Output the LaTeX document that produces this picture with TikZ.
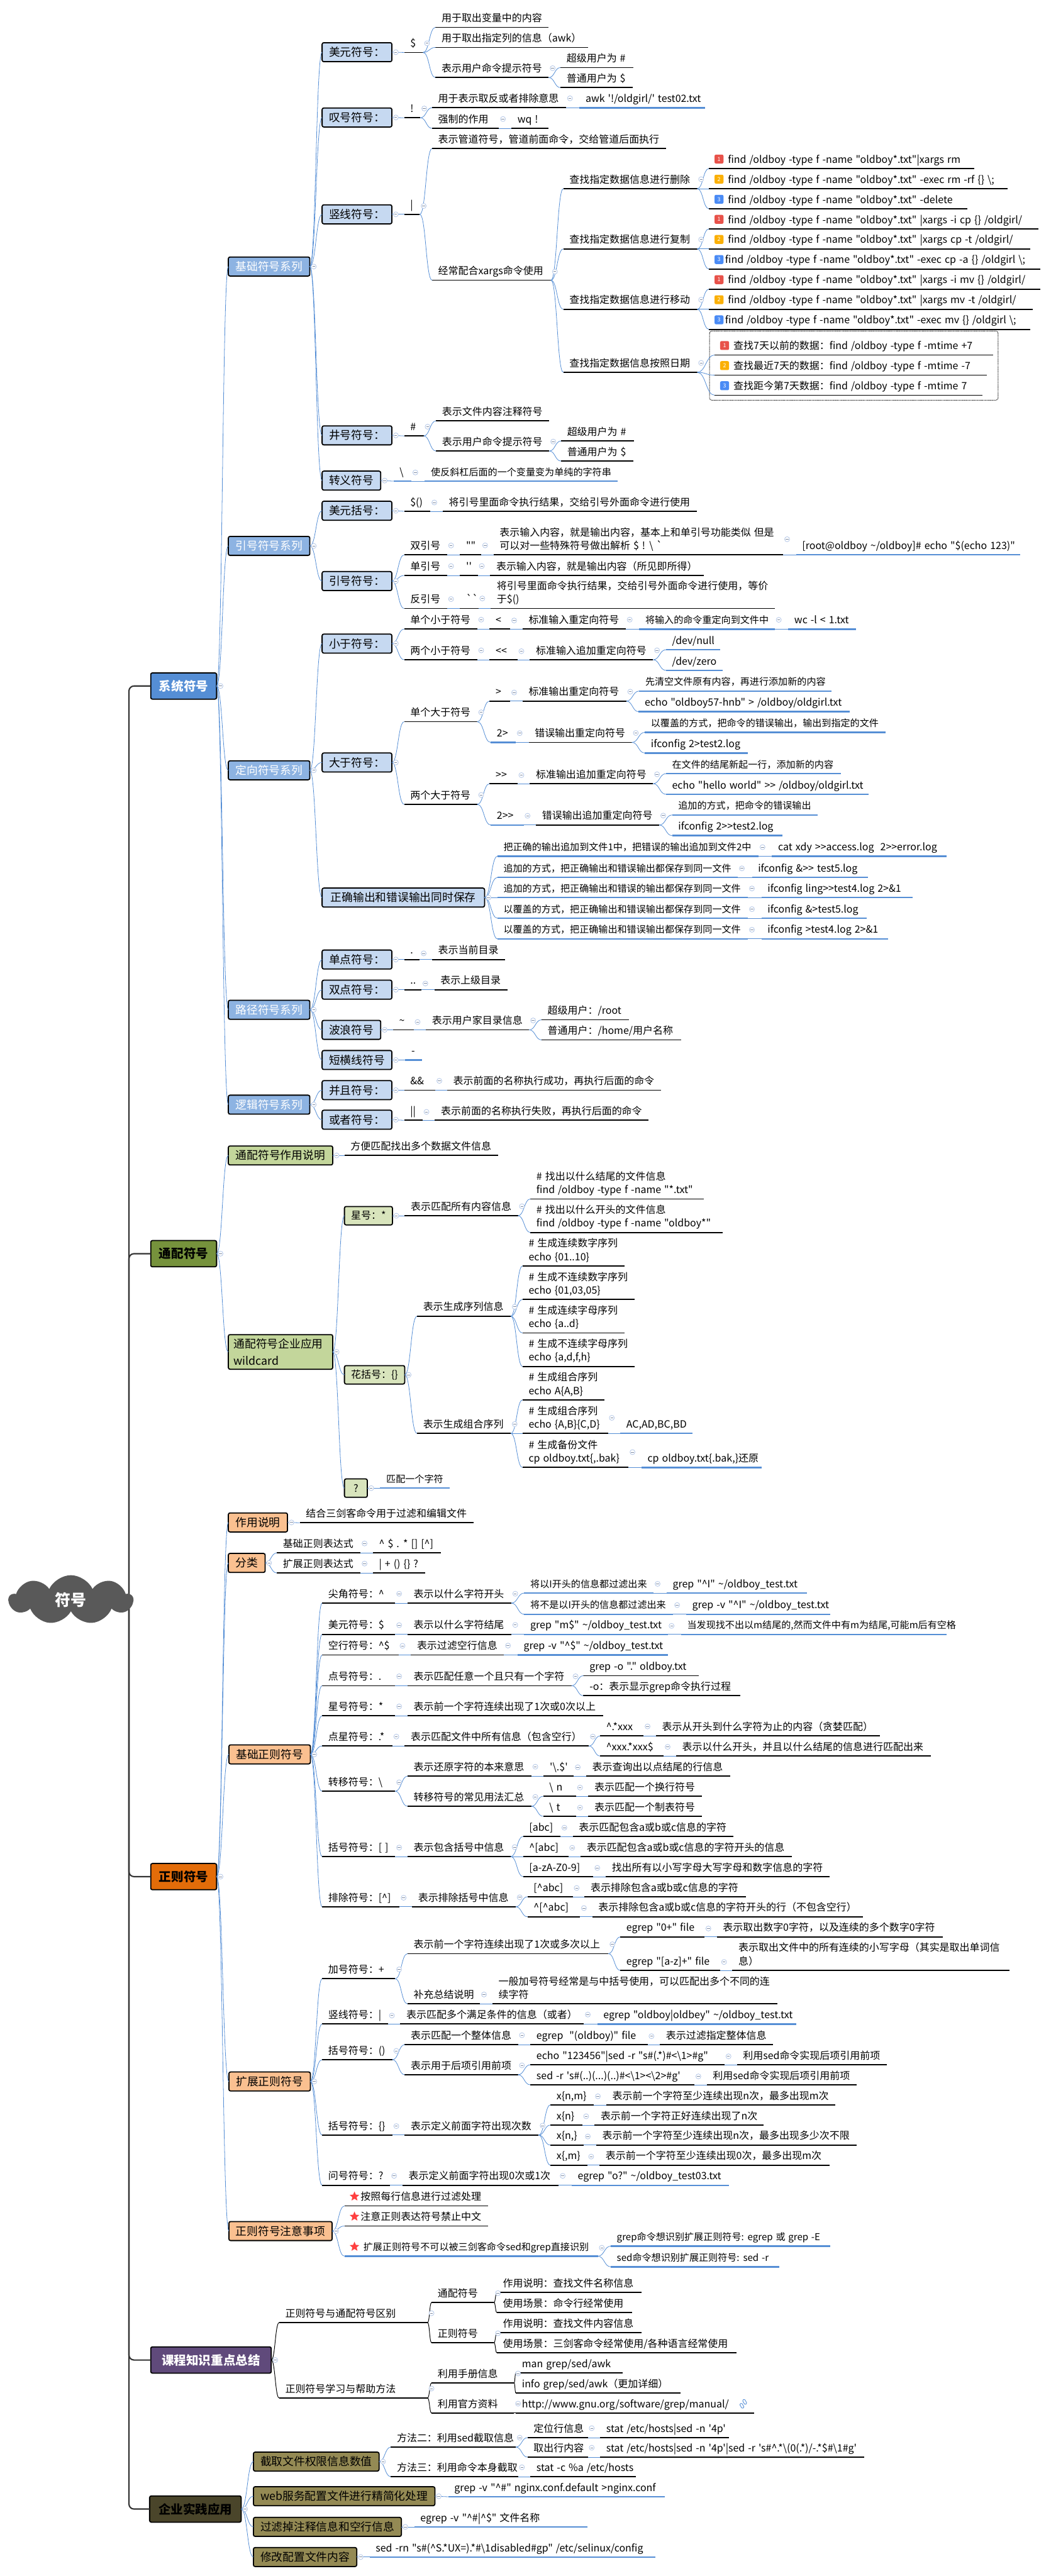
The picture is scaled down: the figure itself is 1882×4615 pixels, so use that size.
\documentclass[tikz,border=0pt]{standalone}
\usepackage{fontspec}
\usetikzlibrary{calc}
\usetikzlibrary{shapes.symbols,shapes.geometric}
\newfontfamily\cnfont[WordSpace=1.4]{Noto Sans CJK SC}
\definecolor{linkblue}{HTML}{558ED5}
\definecolor{sysb}{HTML}{558ED5}
\definecolor{sysm}{HTML}{8DB3E2}
\definecolor{sysl}{HTML}{C6D9F1}
\definecolor{wilb}{HTML}{76923C}
\definecolor{wilm}{HTML}{C3D69B}
\definecolor{will}{HTML}{D8E4BC}
\definecolor{regb}{HTML}{E36C09}
\definecolor{regm}{HTML}{FAC090}
\definecolor{crsb}{HTML}{604A7B}
\definecolor{cprb}{HTML}{4A452A}
\definecolor{cprm}{HTML}{948A54}
\definecolor{foldc}{HTML}{B4C7E7}
\definecolor{pria}{HTML}{E8524A}
\definecolor{prib}{HTML}{FBB005}
\definecolor{pric}{HTML}{4A8BF5}
\newcommand{\crt}{\textasciicircum}
\newcommand{\tld}{\textasciitilde}
\newcommand{\bsl}{\textbackslash}
\tikzset{
 every node/.style={font=\cnfont\fontsize{18}{24}\selectfont},
 tline/.style={black,line width=2},
 bline/.style={linkblue,line width=2.8},
 tnode/.style={anchor=base west,inner sep=0,outer sep=0,align=left},
 lvbox/.style={draw=black,line width=2,rounded corners=3,inner sep=0,outer sep=0,minimum height=34,align=center,anchor=west,font=\cnfont\fontsize{20}{30}\selectfont},
 topbox/.style={lvbox,minimum height=47,font=\cnfont\bfseries\fontsize{22}{30}\selectfont},
 clink/.style={linkblue,line width=.9},
 klink/.style={black,line width=1.1},
 rootlink/.style={black!80,line width=2.4,rounded corners=9},
 foldm/.style={circle,draw=foldc,fill=white,line width=.9,minimum size=9,inner sep=0,
  path picture={\draw[foldc!70!black] ([xshift=-2.5]path picture bounding box.center) -- ([xshift=2.5]path picture bounding box.center);}},
 prio/.style={rounded corners=2.5,minimum size=16,inner sep=0,text=white,font=\cnfont\fontsize{10}{10}\selectfont},
}
% underlined topic, blue underlined topic, filled box
\newcommand{\tpc}[6]{
 \coordinate (#2-l) at (#3,#5); \coordinate (#2-r) at (#4,#5);
 \draw[#1] (#2-l) -- (#2-r);
 \node[tnode] (#2) at (#3+11,#5-10) {#6};
 \coordinate (#2-f) at ($(#2-r |- #2)+(7,0)$);
}
\newcommand{\tp}[5]{\tpc{tline}{#1}{#2}{#3}{#4}{#5}}
\newcommand{\tb}[5]{\tpc{bline}{#1}{#2}{#3}{#4}{\fontsize{17}{24}\selectfont #5}}
\newcommand{\tl}[5]{\tpc{bline}{#1}{#2}{#3}{#4}{#5}}
\newcommand{\bx}[6]{
 \node[#1,minimum width={(#4-#3)*1pt}] (#2) at (#3,#5) {#6};
 \coordinate (#2-l) at (#2.west); \coordinate (#2-r) at (#2.east);
 \coordinate (#2-f) at ($(#2.east)+(7,0)$);
}
\newcommand{\kids}[3][clink]{
 \foreach \kid in {#3} {
  \draw[#1] (#2-r) .. controls ($(#2-r)!.5!(\kid-l |- #2-r)$) and ($(\kid-l)!.5!(#2-r |- \kid-l)$) .. (\kid-l);
 }
 \node[foldm] (#2-m) at (#2-f) {};
}
\newcommand{\prm}[3]{\node[prio,fill=#3] (#1-p) at ($(#1-l)+(18,-17)$) {#2};}
\newcommand{\stm}[1]{\node[star,star points=5,star point ratio=2.2,fill=red!75!white,minimum size=18,inner sep=0] (#1-s) at ($(#1-l)+(18,-17)$) {};}
\begin{document}
\begin{tikzpicture}[x=1pt,y=-1pt]
\useasboundingbox (0,0) rectangle (1882,4615);
\coordinate (root-r) at (231,2866);

% system symbols
\bx{topbox,fill=sysb,text=white}{sys}{270}{388}{1229}{系统符号}
\bx{lvbox,fill=sysm,text=white}{base}{409}{555}{477.5}{基础符号系列}
\bx{lvbox,fill=sysl}{dlr}{577}{702}{93.5}{美元符号：}
\tp{dlra}{724}{758}{94}{\$}
\tp{dlr1}{780}{983}{49}{用于取出变量中的内容}
\tp{dlr2}{780}{1053}{85}{用于取出指定列的信息（awk）}
\tp{dlr3}{780}{983}{139}{表示用户命令提示符号}
\tp{dlr3a}{1004}{1135}{121}{超级用户为 \#}
\tp{dlr3b}{1004}{1134}{157}{普通用户为 \$}
\bx{lvbox,fill=sysl}{exc}{577}{702}{210.5}{叹号符号：}
\tp{exca}{724}{753}{211}{!}
\tp{exc1}{774}{1014}{193}{用于表示取反或者排除意思}
\tl{exc1a}{1038}{1263}{193}{awk '!/oldgirl/' test02.txt}
\tp{exc2}{774}{894}{230}{强制的作用}
\tp{exc2a}{916}{983}{230}{wq !}
\bx{lvbox,fill=sysl}{pipe}{577}{702}{384}{竖线符号：}
\tp{pipa}{724}{752}{384}{|}
\tp{pip1}{774}{1193}{266}{表示管道符号，管道前面命令，交给管道后面执行}
\tp{pip2}{774}{987}{502}{经常配合xargs命令使用}
\tp{del}{1009}{1249}{338}{查找指定数据信息进行删除}
\tp{del1}{1270}{1745}{302}{\hspace*{23pt}find /oldboy -type f -name "oldboy*.txt"|xargs rm}
\tp{del2}{1270}{1805}{338}{\hspace*{23pt}find /oldboy -type f -name "oldboy*.txt" -exec rm -rf \{\} \bsl;}
\tp{del3}{1270}{1733}{374}{\hspace*{23pt}find /oldboy -type f -name "oldboy*.txt" -delete}
\tp{cpy}{1009}{1249}{446}{查找指定数据信息进行复制}
\tp{cpy1}{1270}{1860}{410}{\hspace*{23pt}find /oldboy -type f -name "oldboy*.txt" |xargs -i cp \{\} /oldgirl/}
\tp{cpy2}{1270}{1845}{446}{\hspace*{23pt}find /oldboy -type f -name "oldboy*.txt" |xargs cp -t /oldgirl/}
\tp{cpy3}{1270}{1864}{482}{\hspace*{18pt}find /oldboy -type f -name "oldboy*.txt" -exec cp -a \{\} /oldgirl \bsl;}
\tp{mov}{1009}{1249}{554}{查找指定数据信息进行移动}
\tp{mov1}{1270}{1864}{518}{\hspace*{23pt}find /oldboy -type f -name "oldboy*.txt" |xargs -i mv \{\} /oldgirl/}
\tp{mov2}{1270}{1850}{554}{\hspace*{23pt}find /oldboy -type f -name "oldboy*.txt" |xargs mv -t /oldgirl/}
\tp{mov3}{1270}{1846}{590}{\hspace*{18pt}find /oldboy -type f -name "oldboy*.txt" -exec mv \{\} /oldgirl \bsl;}
\tp{dat}{1009}{1249}{667}{查找指定数据信息按照日期}
\draw[densely dotted,line width=1.1,rounded corners=4] (1271,593) rectangle (1788,717);
\tp{dat1}{1280}{1779}{636}{\hspace*{23pt}查找7天以前的数据：find /oldboy -type f -mtime +7}
\tp{dat2}{1280}{1768}{672}{\hspace*{23pt}查找最近7天的数据：find /oldboy -type f -mtime -7}
\tp{dat3}{1280}{1760}{708}{\hspace*{23pt}查找距今第7天数据：find /oldboy -type f -mtime 7}
\foreach \rw in {del,cpy,mov,dat} {
 \prm{\rw1}{1}{pria}
 \prm{\rw2}{2}{prib}
 \prm{\rw3}{3}{pric}
}
\bx{lvbox,fill=sysl}{hash}{577}{702}{780}{井号符号：}
\tp{hasa}{724}{759}{781}{\#}
\tp{has1}{781}{984}{754}{表示文件内容注释符号}
\tp{has2}{781}{984}{808}{表示用户命令提示符号}
\tp{has2a}{1005}{1136}{790}{超级用户为 \#}
\tp{has2b}{1005}{1135}{826}{普通用户为 \$}
\bx{lvbox,fill=sysl}{esc}{577}{682}{861}{转义符号}
\tl{esca}{705}{737}{862}{\bsl}
\tb{esc1}{761}{1106}{862}{使反斜杠后面的一个变量变为单纯的字符串}

\bx{lvbox,fill=sysm,text=white}{quot}{409}{555}{978}{引号符号系列}
\bx{lvbox,fill=sysl}{dpar}{577}{702}{915}{美元括号：}
\tp{dpara}{724}{771}{916}{\$()}
\tp{dpar1}{793}{1248}{916}{将引号里面命令执行结果，交给引号外面命令进行使用}
\bx{lvbox,fill=sysl}{qmk}{577}{702}{1041}{引号符号：}
\tp{qd}{724}{801}{994}{双引号}
\tp{qda}{824}{862}{994}{""}
\tp{qdb}{884}{1403}{994}{表示输入内容，就是输出内容，基本上和单引号功能类似 但是\\可以对一些特殊符号做出解析 \$ ! \bsl{} `}
\tl{qdc}{1426}{1827}{994}{[root@oldboy \tld/oldboy]\# echo "\$(echo 123)"}
\tp{qs}{724}{801}{1031}{单引号}
\tp{qsa}{824}{856}{1031}{''}
\tp{qsb}{878}{1261}{1031}{表示输入内容，就是输出内容（所见即所得）}
\tp{qb}{724}{801}{1090}{反引号}
\tp{qba}{824}{857}{1090}{``}
\tp{qbb}{879}{1388}{1090}{将引号里面命令执行结果，交给引号外面命令进行使用，等价\\于\$()}

\bx{lvbox,fill=sysm,text=white}{redir}{409}{555}{1380}{定向符号系列}
\bx{lvbox,fill=sysl}{lth}{577}{702}{1153}{小于符号：}
\tp{lt1}{724}{855}{1127}{单个小于符号}
\tp{lt1a}{877}{914}{1127}{<}
\tp{lt1b}{936}{1121}{1127}{标准输入重定向符号}
\tb{lt1c}{1145}{1388}{1127}{将输入的命令重定向到文件中}
\tl{lt1d}{1412}{1533}{1127}{wc -l < 1.txt}
\tp{lt2}{724}{855}{1182}{两个小于符号}
\tp{lt2a}{877}{927}{1182}{<<}
\tp{lt2b}{949}{1170}{1182}{标准输入追加重定向符号}
\tl{lt2c}{1193}{1290}{1164}{/dev/null}
\tl{lt2d}{1193}{1295}{1201}{/dev/zero}
\bx{lvbox,fill=sysl}{gth}{577}{702}{1366}{大于符号：}
\tp{gt1}{724}{855}{1293}{单个大于符号}
\tp{gt1a}{877}{914}{1256}{>}
\tp{gt1b}{936}{1122}{1256}{标准输出重定向符号}
\tb{gt1c}{1145}{1490}{1238}{先清空文件原有内容，再进行添加新的内容}
\tl{gt1d}{1144}{1522}{1275}{echo "oldboy57-hnb" > /oldboy/oldgirl.txt}
\tl{gt2a}{879}{924}{1330}{2>}
\tp{gt2b}{947}{1132}{1330}{错误输出重定向符号}
\tb{gt2c}{1155}{1586}{1312}{以覆盖的方式，把命令的错误输出，输出到指定的文件}
\tl{gt2d}{1155}{1340}{1349}{ifconfig 2>test2.log}
\tp{gt3}{724}{855}{1441}{两个大于符号}
\tp{gt3a}{877}{927}{1404}{>>}
\tp{gt3b}{949}{1170}{1404}{标准输出追加重定向符号}
\tb{gt3c}{1193}{1506}{1386}{在文件的结尾新起一行，添加新的内容}
\tl{gt3d}{1193}{1556}{1423}{echo "hello world" >> /oldboy/oldgirl.txt}
\tl{gt4a}{879}{938}{1478}{2>>}
\tp{gt4b}{960}{1181}{1478}{错误输出追加重定向符号}
\tb{gt4c}{1204}{1465}{1460}{追加的方式，把命令的错误输出}
\tl{gt4d}{1204}{1402}{1497}{ifconfig 2>>test2.log}
\bx{lvbox,fill=sysl}{both}{577}{868}{1608}{正确输出和错误输出同时保存}
\tb{bo1}{891}{1359}{1534}{把正确的输出追加到文件1中，把错误的输出追加到文件2中}
\tl{bo1a}{1383}{1696}{1534}{cat xdy >>access.log \ 2>>error.log}
\tb{bo2}{891}{1322}{1572}{追加的方式，把正确输出和错误输出都保存到同一文件}
\tl{bo2a}{1347}{1555}{1572}{ifconfig \&>> test5.log}
\tb{bo3}{891}{1340}{1608}{追加的方式，把正确输出和错误的输出都保存到同一文件}
\tl{bo3a}{1364}{1635}{1608}{ifconfig ling>>test4.log 2>\&1}
\tb{bo4}{891}{1340}{1645}{以覆盖的方式，把正确输出和错误输出都保存到同一文件}
\tl{bo4a}{1364}{1553}{1645}{ifconfig \&>test5.log}
\tb{bo5}{891}{1340}{1682}{以覆盖的方式，把正确输出和错误输出都保存到同一文件}
\tl{bo5a}{1364}{1591}{1682}{ifconfig >test4.log 2>\&1}

\bx{lvbox,fill=sysm,text=white}{pth}{409}{555}{1809}{路径符号系列}
\bx{lvbox,fill=sysl}{sdot}{577}{702}{1719}{单点符号：}
\tp{sdota}{724}{752}{1719}{.}
\tp{sdot1}{774}{905}{1719}{表示当前目录}
\bx{lvbox,fill=sysl}{ddot}{577}{702}{1773}{双点符号：}
\tp{ddota}{724}{755}{1773}{..}
\tp{ddot1}{778}{909}{1773}{表示上级目录}
\bx{lvbox,fill=sysl}{wave}{577}{682}{1845}{波浪符号}
\tp{wavea}{704}{741}{1845}{\tld}
\tp{wave1}{763}{948}{1845}{表示用户家目录信息}
\tp{wave1a}{970}{1127}{1827}{超级用户：/root}
\tp{wave1b}{970}{1220}{1863}{普通用户：/home/用户名称}
\bx{lvbox,fill=sysl}{dsh}{577}{702}{1899}{短横线符号}
\tl{dsha}{726}{756}{1899}{-}
\bx{lvbox,fill=sysm,text=white}{logi}{409}{555}{1979}{逻辑符号系列}
\bx{lvbox,fill=sysl}{andb}{577}{702}{1953}{并且符号：}
\tp{anda}{724}{780}{1953}{\&\&}
\tp{and1}{801}{1184}{1953}{表示前面的名称执行成功，再执行后面的命令}
\bx{lvbox,fill=sysl}{orb}{577}{702}{2006}{或者符号：}
\tp{ora}{724}{757}{2007}{||}
\tp{or1}{779}{1162}{2007}{表示前面的名称执行失败，再执行后面的命令}

% wildcard symbols
\bx{topbox,fill=wilb}{wild}{270}{388}{2246}{通配符号}
\bx{lvbox,fill=wilm}{wusage}{409}{596}{2070}{通配符号作用说明}
\tp{wusage1}{617}{892}{2070}{方便匹配找出多个数据文件信息}
\bx{lvbox,fill=wilm,minimum height=62,align=left}{wapp}{409}{596}{2422}{通配符号企业应用\hspace*{7pt}\\wildcard\hspace*{87pt}}
\bx{lvbox,fill=will,minimum height=33,font=\cnfont\fontsize{18}{24}\selectfont}{star}{617}{703}{2178}{星号：*}
\tp{star1}{725}{928}{2178}{表示匹配所有内容信息}
\tp{star1a}{950}{1261}{2148}{\# 找出以什么结尾的文件信息\\find /oldboy -type f -name "*.txt"}
\tp{star1b}{950}{1295}{2208}{\# 找出以什么开头的文件信息\\find /oldboy -type f -name "oldboy*"}
\bx{lvbox,fill=will,minimum height=33,font=\cnfont\fontsize{18}{24}\selectfont}{brac}{617}{725}{2463}{花括号：\{\}}
\tp{brac1}{747}{915}{2358}{表示生成序列信息}
\tp{brac1a}{936}{1119}{2268}{\# 生成连续数字序列\\echo \{01..10\}}
\tp{brac1b}{936}{1137}{2328}{\# 生成不连续数字序列\\echo \{01,03,05\}}
\tp{brac1c}{936}{1119}{2388}{\# 生成连续字母序列\\echo \{a..d\}}
\tp{brac1d}{936}{1137}{2448}{\# 生成不连续字母序列\\echo \{a,d,f,h\}}
\tp{brac2}{747}{915}{2568}{表示生成组合序列}
\tp{brac2a}{936}{1083}{2508}{\# 生成组合序列\\echo A\{A,B\}}
\tp{brac2b}{936}{1089}{2568}{\# 生成组合序列\\echo \{A,B\}\{C,D\}}
\tl{brac2c}{1111}{1240}{2568}{AC,AD,BC,BD}
\tp{brac2d}{936}{1126}{2629}{\# 生成备份文件\\cp oldboy.txt\{,.bak\}}
\tl{brac2e}{1149}{1364}{2629}{cp oldboy.txt\{.bak,\}还原}
\bx{lvbox,fill=will,minimum height=33,font=\cnfont\fontsize{18}{24}\selectfont}{qst}{617}{658}{2666}{?}
\tb{qst1}{681}{806}{2666}{匹配一个字符}

% regular expressions
\bx{topbox,fill=regb}{regx}{270}{388}{3362}{正则符号}
\bx{lvbox,fill=regm}{rusage}{409}{515}{2727.5}{作用说明}
\tp{rusage1}{537}{848}{2728}{结合三剑客命令用于过滤和编辑文件}
\bx{lvbox,fill=regm}{rkind}{409}{475}{2800}{分类}
\tp{rk1}{496}{646}{2782}{基础正则表达式}
\tp{rk1a}{668}{790}{2782}{\crt{} \$ . * [] [\crt{}]}
\tp{rk2}{496}{646}{2818}{扩展正则表达式}
\tp{rk2a}{668}{762}{2818}{| + () \{\} ?}
\bx{lvbox,fill=regm}{rbasic}{410}{556}{3143}{基础正则符号}
\tp{car}{577}{708}{2872}{尖角符号：\crt}
\tp{car1}{730}{916}{2872}{表示以什么字符开头}
\tb{car1a}{939}{1171}{2854}{将以I开头的信息都过滤出来}
\tl{car1b}{1194}{1445}{2854}{grep "\crt{}I" \tld/oldboy\_test.txt}
\tb{car1c}{939}{1206}{2892}{将不是以I开头的信息都过滤出来}
\tl{car1d}{1229}{1487}{2892}{grep -v "\crt{}I" \tld/oldboy\_test.txt}
\tp{end}{577}{708}{2928}{美元符号：\$}
\tp{end1}{730}{916}{2928}{表示以什么字符结尾}
\tl{end1a}{939}{1196}{2928}{grep "m\$" \tld/oldboy\_test.txt}
\tb{end1b}{1220}{1696}{2928}{当发现找不出以m结尾的,然而文件中有m为结尾,可能m后有空格}
\tp{nul}{577}{714}{2965}{空行符号：\crt{}\$}
\tp{nul1}{736}{903}{2965}{表示过滤空行信息}
\tl{nul1a}{927}{1197}{2965}{grep -v "\crt{}\$" \tld/oldboy\_test.txt}
\tp{pnt}{577}{708}{3020}{点号符号：.}
\tp{pnt1}{730}{1024}{3020}{表示匹配任意一个且只有一个字符}
\tp{pnt1a}{1045}{1252}{3002}{grep -o "." oldboy.txt}
\tp{pnt1b}{1045}{1326}{3038}{-o：表示显示grep命令执行过程}
\tp{ast}{577}{708}{3074}{星号符号：*}
\tp{ast1}{730}{1081}{3074}{表示前一个字符连续出现了1次或0次以上}
\tp{dst}{577}{703}{3128}{点星符号：.*}
\tp{dst1}{725}{1055}{3128}{表示匹配文件中所有信息（包含空行）}
\tp{dst1a}{1075}{1153}{3110}{\crt{}.*xxx}
\tp{dst1b}{1175}{1576}{3110}{表示从开头到什么字符为止的内容（贪婪匹配）}
\tp{dst1c}{1075}{1189}{3146}{\crt{}xxx.*xxx\$}
\tp{dst1d}{1211}{1667}{3146}{表示以什么开头，并且以什么结尾的信息进行匹配出来}
\tp{tr}{577}{708}{3209}{转移符号：\bsl}
\tp{tr1}{730}{952}{3182}{表示还原字符的本来意思}
\tp{tr1a}{974}{1028}{3182}{'\bsl.\$'}
\tp{tr1b}{1050}{1308}{3182}{表示查询出以点结尾的行信息}
\tp{tr2}{730}{952}{3236}{转移符号的常见用法汇总}
\tp{tr2a}{973}{1032}{3218}{\bsl{} n}
\tp{tr2b}{1054}{1257}{3218}{表示匹配一个换行符号}
\tp{tr2c}{973}{1032}{3254}{\bsl{} t}
\tp{tr2d}{1054}{1257}{3254}{表示匹配一个制表符号}
\tp{sqb}{577}{708}{3326}{括号符号：[ ]}
\tp{sqb1}{730}{915}{3326}{表示包含括号中信息}
\tp{sqb1a}{937}{1004}{3290}{[abc]}
\tp{sqb1b}{1026}{1314}{3290}{表示匹配包含a或b或c信息的字符}
\tp{sqb1c}{937}{1018}{3326}{\crt{}[abc]}
\tp{sqb1d}{1040}{1418}{3326}{表示匹配包含a或b或c信息的字符开头的信息}
\tp{sqb1e}{937}{1063}{3362}{[a-zA-Z0-9]}
\tp{sqb1f}{1085}{1486}{3362}{找出所有以小写字母大写字母和数字信息的字符}
\tp{neg}{577}{716}{3416}{排除符号：[\crt{}]}
\tp{neg1}{738}{924}{3416}{表示排除括号中信息}
\tp{neg1a}{945}{1026}{3398}{[\crt{}abc]}
\tp{neg1b}{1047}{1336}{3398}{表示排除包含a或b或c信息的字符}
\tp{neg1c}{945}{1039}{3434}{\crt{}[\crt{}abc]}
\tp{neg1d}{1061}{1546}{3434}{表示排除包含a或b或c信息的字符开头的行（不包含空行）}

\bx{lvbox,fill=regm}{rext}{410}{556}{3729}{扩展正则符号}
\tp{plu}{577}{708}{3545}{加号符号：+}
\tp{plu1}{730}{1090}{3500}{表示前一个字符连续出现了1次或多次以上}
\tp{plu1a}{1111}{1262}{3470}{egrep "0+" file}
\tp{plu1b}{1284}{1689}{3470}{表示取出数字0字符，以及连续的多个数字0字符}
\tp{plu1c}{1111}{1290}{3530}{egrep "[a-z]+" file}
\tp{plu1d}{1312}{1808}{3530}{表示取出文件中的所有连续的小写字母（其实是取出单词信\\息）}
\tp{plu2}{730}{860}{3590}{补充总结说明}
\tp{plu2a}{882}{1393}{3590}{一般加号符号经常是与中括号使用，可以匹配出多个不同的连\\续字符}
\tp{vbr}{577}{695}{3626}{竖线符号：|}
\tp{vbr1}{717}{1046}{3626}{表示匹配多个满足条件的信息（或者）}
\tl{vbr1a}{1070}{1426}{3626}{egrep "oldboy|oldbey" \tld/oldboy\_test.txt}
\tp{rnd}{577}{703}{3690}{括号符号：()}
\tp{rnd1}{725}{928}{3663}{表示匹配一个整体信息}
\tp{rnd1a}{950}{1160}{3663}{egrep \ "(oldboy)" file}
\tp{rnd1b}{1182}{1385}{3663}{表示过滤指定整体信息}
\tp{rnd2}{725}{928}{3717}{表示用于后项引用前项}
\tp{rnd2a}{950}{1298}{3699}{echo "123456"|sed -r "s\#(.*)\#<\bsl{}1>\#g"}
\tp{rnd2b}{1320}{1589}{3699}{利用sed命令实现后项引用前项}
\tp{rnd2c}{950}{1244}{3735}{sed -r 's\#(..)(...)(..)\#<\bsl{}1><\bsl{}2>\#g'}
\tp{rnd2d}{1266}{1535}{3735}{利用sed命令实现后项引用前项}
\tp{cbr}{577}{703}{3825}{括号符号：\{\}}
\tp{cbr1}{725}{965}{3825}{表示定义前面字符出现次数}
\tp{cbr1a}{986}{1064}{3771}{x\{n,m\}}
\tp{cbr1b}{1086}{1496}{3771}{表示前一个字符至少连续出现n次，最多出现m次}
\tp{cbr1c}{986}{1043}{3807}{x\{n\}}
\tp{cbr1d}{1065}{1368}{3807}{表示前一个字符正好连续出现了n次}
\tp{cbr1e}{986}{1046}{3843}{x\{n,\}}
\tp{cbr1f}{1068}{1534}{3843}{表示前一个字符至少连续出现n次，最多出现多少次不限}
\tp{cbr1g}{986}{1052}{3879}{x\{,m\}}
\tp{cbr1h}{1074}{1486}{3879}{表示前一个字符至少连续出现0次，最多出现m次}
\tp{qus}{577}{699}{3915}{问号符号：?}
\tp{qus1}{721}{1001}{3915}{表示定义前面字符出现0次或1次}
\tl{qus1a}{1024}{1306}{3915}{egrep "o?" \tld/oldboy\_test03.txt}
\bx{lvbox,fill=regm}{rnote}{410}{595}{3997}{正则符号注意事项}
\tp{rn1}{617}{874}{3952}{\hspace*{18pt}按照每行信息进行过滤处理}
\tp{rn2}{617}{874}{3988}{\hspace*{18pt}注意正则表达符号禁止中文}
\tb{rn3}{617}{1071}{4042}{\hspace*{23pt}扩展正则符号不可以被三剑客命令sed和grep直接识别}
\tb{rn3a}{1094}{1487}{4024}{grep命令想识别扩展正则符号: egrep 或 grep -E}
\tb{rn3b}{1094}{1396}{4061}{sed命令想识别扩展正则符号: sed -r}
\stm{rn1} \stm{rn2} \stm{rn3}

% course summary
\bx{topbox,fill=crsb,text=white}{crs}{270}{486}{4228}{课程知识重点总结}
\tp{cs1}{500}{766}{4161}{正则符号与通配符号区别}
\tp{cs1a}{773}{885}{4125}{通配符号}
\tp{cs1b}{890}{1149}{4107}{作用说明：查找文件名称信息}
\tp{cs1c}{890}{1132}{4143}{使用场景：命令行经常使用}
\tp{cs1d}{773}{885}{4197}{正则符号}
\tp{cs1e}{890}{1149}{4179}{作用说明：查找文件内容信息}
\tp{cs1f}{890}{1319}{4215}{使用场景：三剑客命令经常使用/各种语言经常使用}
\tp{cs2}{500}{766}{4296}{正则符号学习与帮助方法}
\tp{cs2a}{773}{921}{4269}{利用手册信息}
\tp{cs2b}{924}{1115}{4251}{man grep/sed/awk}
\tp{cs2c}{924}{1219}{4287}{info grep/sed/awk（更加详细）}
\tp{cs2d}{773}{921}{4323}{利用官方资料}
\tp{cs2e}{924}{1351}{4323}{http://www.gnu.org/software/grep/manual/}
\node[draw=linkblue,line width=1,rounded corners=1.5,rotate=-60,minimum width=9,minimum height=4.5,inner sep=0] (urla) at (1329,4310) {};
\node[draw=linkblue,line width=1,rounded corners=1.5,rotate=-60,minimum width=9,minimum height=4.5,inner sep=0] (urlb) at (1334,4303) {};

% enterprise practice
\bx{topbox,fill=cprb}{corp}{268}{432}{4495}{企业实践应用}
\bx{lvbox,fill=cprm}{cp1}{454}{679}{4410}{截取文件权限信息数值}
\tp{cp1a}{700}{924}{4384}{方法二：利用sed截取信息}
\tp{cp1b}{945}{1053}{4367}{定位行信息}
\tp{cp1c}{1075}{1306}{4367}{stat /etc/hosts|sed -n '4p'}
\tp{cp1d}{945}{1053}{4402}{取出行内容}
\tp{cp1e}{1075}{1548}{4402}{stat /etc/hosts|sed -n '4p'|sed -r 's\#\crt{}.*\bsl(0(.*)/-.*\$\#\bsl{}1\#g'}
\tp{cp1f}{700}{928}{4437}{方法三：利用命令本身截取}
\tp{cp1g}{950}{1139}{4437}{stat -c \%a /etc/hosts}
\bx{lvbox,fill=cprm}{cp2}{454}{779}{4472}{web服务配置文件进行精简化处理}
\tl{cp2a}{803}{1191}{4473}{grep -v "\crt{}\#" nginx.conf.default >nginx.conf}
\bx{lvbox,fill=cprm}{cp3}{454}{719}{4527}{过滤掉注释信息和空行信息}
\tl{cp3a}{742}{1052}{4527}{egrep -v "\crt{}\#|\crt{}\$" 文件名称}
\bx{lvbox,fill=cprm}{cp4}{454}{639}{4581}{修改配置文件内容}
\tl{cp4a}{662}{1174}{4581}{sed -rn "s\#(\crt{}S.*UX=).*\#\bsl{}1disabled\#gp" /etc/selinux/config}

% connectors
\foreach \kid in {sys,wild,regx,crs,corp} {
 \draw[rootlink] (root-r) |- (\kid-l);
}
\node[cloud,cloud puffs=9,cloud puff arc=130,aspect=2.5,fill=black!65,minimum width=222,minimum height=88,inner sep=0,text=white,font=\cnfont\bfseries\fontsize{28}{30}\selectfont] (root) at (127,2866) {符号};

\kids{sys}{base,quot,redir,pth,logi}
\kids{base}{dlr,exc,pipe,hash,esc}
\kids{dlr}{dlra} \kids{dlra}{dlr1,dlr2,dlr3} \kids{dlr3}{dlr3a,dlr3b}
\kids{exc}{exca} \kids{exca}{exc1,exc2} \kids{exc1}{exc1a} \kids{exc2}{exc2a}
\kids{pipe}{pipa} \kids{pipa}{pip1,pip2} \kids{pip2}{del,cpy,mov,dat}
\kids{del}{del1,del2,del3} \kids{cpy}{cpy1,cpy2,cpy3} \kids{mov}{mov1,mov2,mov3} \kids{dat}{dat1,dat2,dat3}
\kids{hash}{hasa} \kids{hasa}{has1,has2} \kids{has2}{has2a,has2b}
\kids{esc}{esca} \kids{esca}{esc1}
\kids{quot}{dpar,qmk} \kids{dpar}{dpara} \kids{dpara}{dpar1}
\kids{qmk}{qd,qs,qb} \kids{qd}{qda} \kids{qda}{qdb} \kids{qdb}{qdc}
\kids{qs}{qsa} \kids{qsa}{qsb} \kids{qb}{qba} \kids{qba}{qbb}
\kids{redir}{lth,gth,both}
\kids{lth}{lt1,lt2} \kids{lt1}{lt1a} \kids{lt1a}{lt1b} \kids{lt1b}{lt1c} \kids{lt1c}{lt1d}
\kids{lt2}{lt2a} \kids{lt2a}{lt2b} \kids{lt2b}{lt2c,lt2d}
\kids{gth}{gt1,gt3} \kids{gt1}{gt1a,gt2a} \kids{gt1a}{gt1b} \kids{gt1b}{gt1c,gt1d}
\kids{gt2a}{gt2b} \kids{gt2b}{gt2c,gt2d}
\kids{gt3}{gt3a,gt4a} \kids{gt3a}{gt3b} \kids{gt3b}{gt3c,gt3d}
\kids{gt4a}{gt4b} \kids{gt4b}{gt4c,gt4d}
\kids{both}{bo1,bo2,bo3,bo4,bo5}
\foreach \rw in {bo1,bo2,bo3,bo4,bo5} {\kids{\rw}{\rw a}}
\kids{pth}{sdot,ddot,wave,dsh}
\kids{sdot}{sdota} \kids{sdota}{sdot1} \kids{ddot}{ddota} \kids{ddota}{ddot1}
\kids{wave}{wavea} \kids{wavea}{wave1} \kids{wave1}{wave1a,wave1b} \kids{dsh}{dsha}
\kids{logi}{andb,orb} \kids{andb}{anda} \kids{anda}{and1} \kids{orb}{ora} \kids{ora}{or1}
\kids{wild}{wusage,wapp} \kids{wusage}{wusage1}
\kids{wapp}{star,brac,qst}
\kids{star}{star1} \kids{star1}{star1a,star1b}
\kids{brac}{brac1,brac2} \kids{brac1}{brac1a,brac1b,brac1c,brac1d}
\kids{brac2}{brac2a,brac2b,brac2d} \kids{brac2b}{brac2c} \kids{brac2d}{brac2e}
\kids{qst}{qst1}
\kids{regx}{rusage,rkind,rbasic,rext,rnote}
\kids{rusage}{rusage1} \kids{rkind}{rk1,rk2} \kids{rk1}{rk1a} \kids{rk2}{rk2a}
\kids{rbasic}{car,end,nul,pnt,ast,dst,tr,sqb,neg}
\kids{car}{car1} \kids{car1}{car1a,car1c} \kids{car1a}{car1b} \kids{car1c}{car1d}
\kids{end}{end1} \kids{end1}{end1a} \kids{end1a}{end1b}
\kids{nul}{nul1} \kids{nul1}{nul1a}
\kids{pnt}{pnt1} \kids{pnt1}{pnt1a,pnt1b}
\kids{ast}{ast1}
\kids{dst}{dst1} \kids{dst1}{dst1a,dst1c} \kids{dst1a}{dst1b} \kids{dst1c}{dst1d}
\kids{tr}{tr1,tr2} \kids{tr1}{tr1a} \kids{tr1a}{tr1b}
\kids{tr2}{tr2a,tr2c} \kids{tr2a}{tr2b} \kids{tr2c}{tr2d}
\kids{sqb}{sqb1} \kids{sqb1}{sqb1a,sqb1c,sqb1e} \kids{sqb1a}{sqb1b} \kids{sqb1c}{sqb1d} \kids{sqb1e}{sqb1f}
\kids{neg}{neg1} \kids{neg1}{neg1a,neg1c} \kids{neg1a}{neg1b} \kids{neg1c}{neg1d}
\kids{rext}{plu,vbr,rnd,cbr,qus}
\kids{plu}{plu1,plu2} \kids{plu1}{plu1a,plu1c} \kids{plu1a}{plu1b} \kids{plu1c}{plu1d} \kids{plu2}{plu2a}
\kids{vbr}{vbr1} \kids{vbr1}{vbr1a}
\kids{rnd}{rnd1,rnd2} \kids{rnd1}{rnd1a} \kids{rnd1a}{rnd1b}
\kids{rnd2}{rnd2a,rnd2c} \kids{rnd2a}{rnd2b} \kids{rnd2c}{rnd2d}
\kids{cbr}{cbr1} \kids{cbr1}{cbr1a,cbr1c,cbr1e,cbr1g}
\kids{cbr1a}{cbr1b} \kids{cbr1c}{cbr1d} \kids{cbr1e}{cbr1f} \kids{cbr1g}{cbr1h}
\kids{qus}{qus1} \kids{qus1}{qus1a}
\kids{rnote}{rn1,rn2,rn3} \kids{rn3}{rn3a,rn3b}
\kids[klink]{crs}{cs1,cs2}
\kids[klink]{cs1}{cs1a,cs1d} \kids[klink]{cs1a}{cs1b,cs1c} \kids[klink]{cs1d}{cs1e,cs1f}
\kids[klink]{cs2}{cs2a,cs2d} \kids[klink]{cs2a}{cs2b,cs2c} \kids[klink]{cs2d}{cs2e}
\kids{corp}{cp1,cp2,cp3,cp4}
\kids{cp1}{cp1a,cp1f} \kids{cp1a}{cp1b,cp1d} \kids{cp1b}{cp1c} \kids{cp1d}{cp1e} \kids{cp1f}{cp1g}
\kids{cp2}{cp2a} \kids{cp3}{cp3a} \kids{cp4}{cp4a}
\end{tikzpicture}
\end{document}
